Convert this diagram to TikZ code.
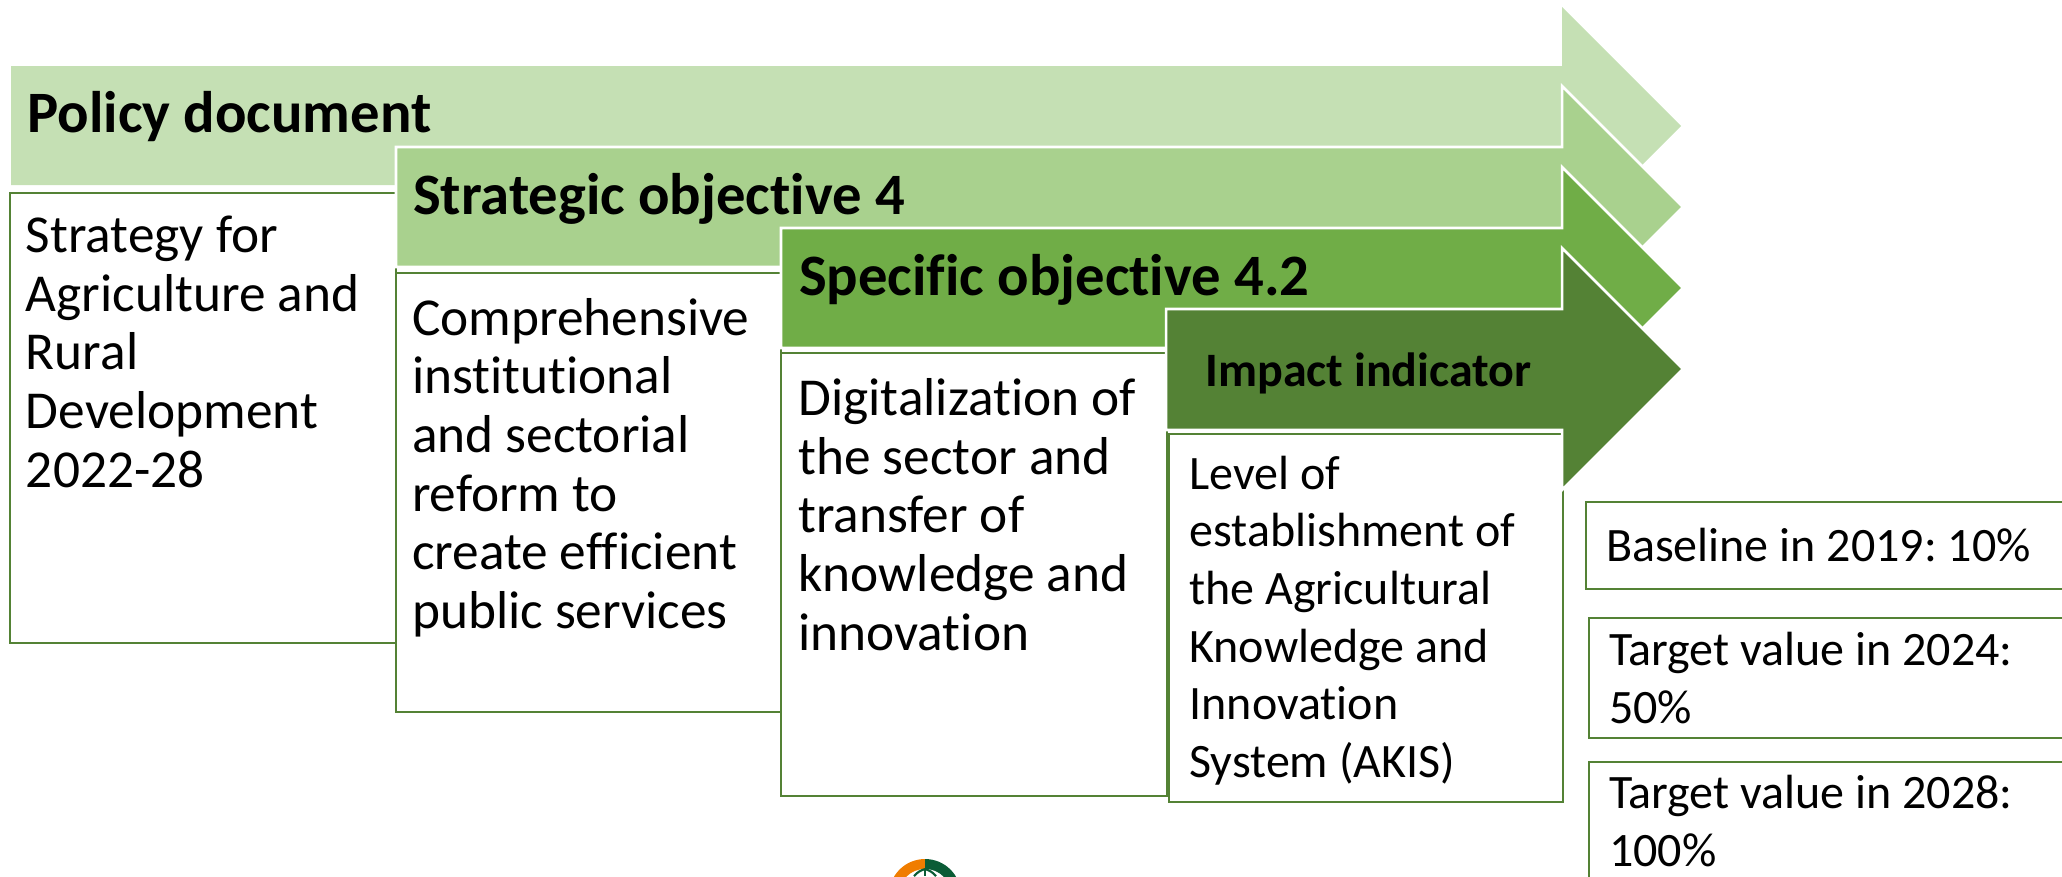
\documentclass[tikz,border=0pt]{standalone}
\usepackage{fontspec}
\setmainfont[Ligatures=NoCommon]{Carlito}
\definecolor{arrA}{HTML}{C5E0B4}
\definecolor{arrB}{HTML}{A9D18E}
\definecolor{arrC}{HTML}{70AD47}
\definecolor{arrD}{HTML}{548235}
\definecolor{logoOrange}{HTML}{F07D00}
\definecolor{logoGreen}{HTML}{0B5C36}
\frenchspacing
\tikzset{
  x=0.75pt,y=-0.75pt,
  bodybox/.style={draw=arrD,line width=1.9pt,fill=white},
  arrowshape/.style={draw=white,line width=1.9pt,line join=miter},
  bodytext/.style={anchor=base west,inner sep=0pt,outer sep=0pt,font=\fontsize{40}{44}\selectfont},
  sidetext/.style={anchor=base west,inner sep=0pt,outer sep=0pt,font=\fontsize{36}{43.3}\selectfont},
  headtext/.style={anchor=base west,inner sep=0pt,outer sep=0pt,font=\fontsize{44}{50}\selectfont\bfseries},
  smallhead/.style={anchor=base west,inner sep=0pt,outer sep=0pt,font=\fontsize{36}{42}\selectfont\bfseries},
}
\newcommand{\arrowpath}[4]{% left, shaft top, shaft bottom, tip y
  (#1,#2) -- (1562,#2) -- (1562,#4-121) -- (1683,#4) -- (1562,#4+121) -- (1562,#3) -- (#1,#3) -- cycle}
\newcommand{\ml}[1]{\begin{tabular}[t]{@{}l@{}}#1\end{tabular}}
\begin{document}
\begin{tikzpicture}
\path[use as bounding box] (0,0) rectangle (2062,876);
\begin{scope}
\clip (0,0) rectangle (2062,876);
% first arrow and its box
\fill[arrA] (11,66) -- (1562,66) -- (1562,7) -- (1681,126) -- (1562,245) -- (1562,185) -- (11,185) -- cycle;
\draw[bodybox] (10,193) rectangle (396,643);
\node[headtext] (h1) at (27.5,132) {Policy document};
\node[bodytext] (t1) at (26,252.5) {\ml{Strategy for\\Agriculture and\\Rural\\Development\\2022-28}};
% second
\filldraw[arrowshape,fill=arrB] \arrowpath{396}{147}{267}{207};
\draw[bodybox] (396,273) rectangle (781,712);
\node[headtext] (h2) at (413,214) {Strategic objective 4};
\node[bodytext] (t2) at (412,335) {\ml{Comprehensive\\institutional\\and sectorial\\reform to\\create efficient\\public services}};
% third
\filldraw[arrowshape,fill=arrC] \arrowpath{781}{228}{348}{288};
\draw[bodybox] (781,353) rectangle (1167,796);
\node[headtext] (h3) at (799,295) {Specific objective 4.2};
\node[bodytext] (t3) at (798.5,415.5) {\ml{Digitalization of\\the sector and\\transfer of\\knowledge and\\innovation}};
% fourth
\draw[bodybox] (1169,434) rectangle (1563,802);
\filldraw[arrowshape,fill=arrD] \arrowpath{1166}{309}{430}{369};
\node[smallhead] (h4) at (1205.5,386) {Impact indicator};
\node[sidetext] (t4) at (1189.5,489) {\ml{Level of\\establishment of\\the Agricultural\\Knowledge and\\Innovation\\System (AKIS)}};
% right column
\draw[bodybox] (1586,502) rectangle (2080,589);
\node[sidetext] (ta) at (1606,561) {Baseline in 2019: 10\%};
\draw[bodybox] (1589,618) rectangle (2080,738);
\node[sidetext] (tb) at (1609,665.5) {\ml{Target value in 2024:\\50\%}};
\draw[bodybox] (1589,762) rectangle (2080,900);
\node[sidetext] (tc) at (1609,808.5) {\ml{Target value in 2028:\\100\%}};
% logo fragment
\begin{scope}
\clip (890,850) rectangle (925,876);
\fill[logoOrange] (925,895) circle (36);
\end{scope}
\begin{scope}
\clip (925,850) rectangle (960,876);
\fill[logoGreen] (925,895) circle (36);
\end{scope}
\fill[white] (925,895) circle (26);
\draw[logoGreen,line width=1.6pt] (925,869) -- (925,876);
\draw[logoGreen,line width=1.6pt] (925,869) to[bend right=15] (914,876);
\draw[logoGreen,line width=1.6pt] (925,869) to[bend left=15] (936,876);
\end{scope}
\end{tikzpicture}
\end{document}
